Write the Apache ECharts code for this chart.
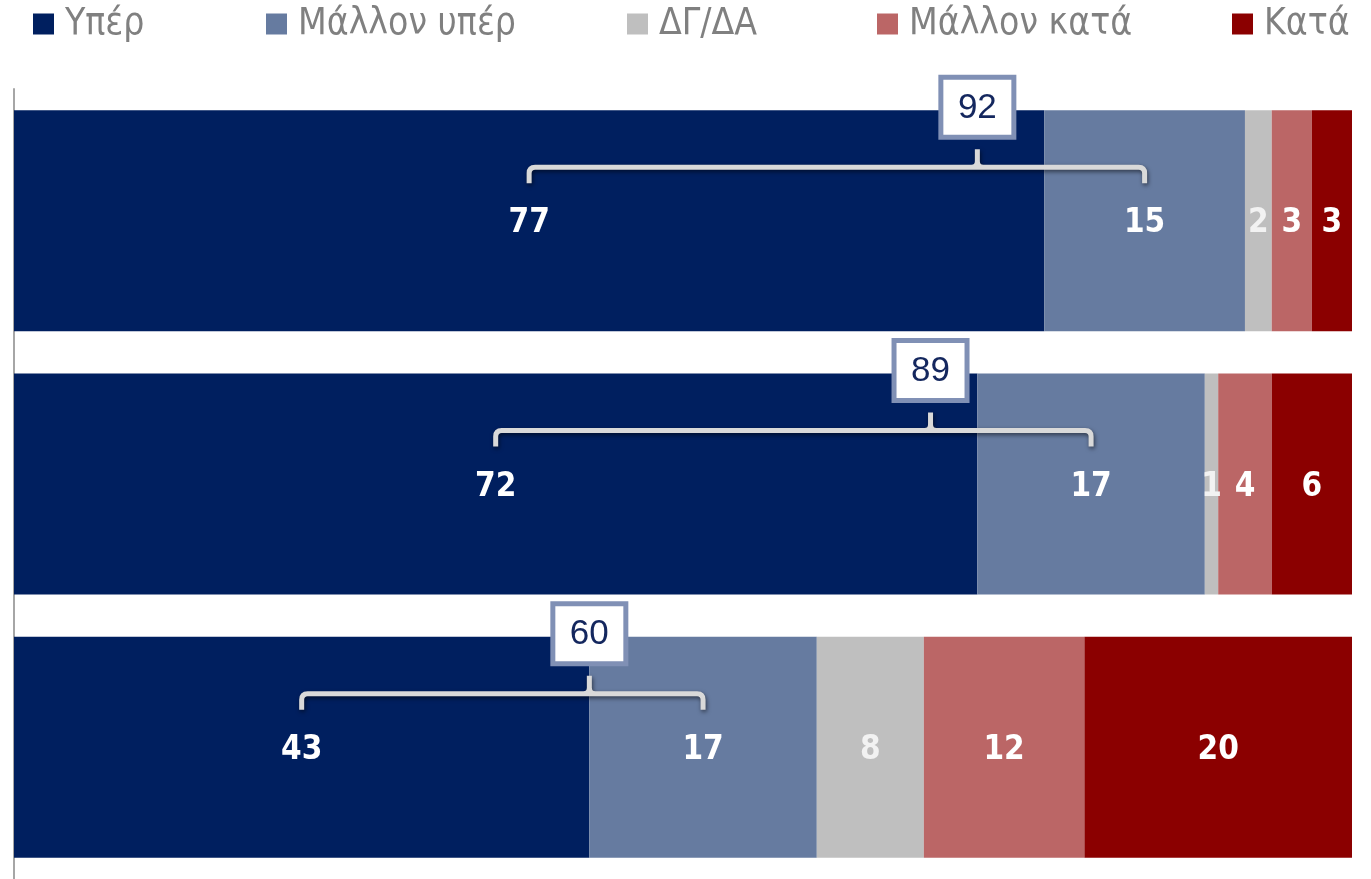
<!DOCTYPE html>
<html>
<head>
<meta charset="utf-8">
<script src="https://cdn.jsdelivr.net/npm/echarts@6/dist/echarts.min.js"></script>
<style>
  html, body { margin: 0; padding: 0; background: #fff; }
  #chart { width: 1371px; height: 879px; }
</style>
</head>
<body>
<div id="chart"></div>
<script>
// three rows, top to bottom
var rows = ['A', 'B', 'C'];
var seriesNames = ['Υπέρ', 'Μάλλον υπέρ', 'ΔΓ/ΔΑ', 'Μάλλον κατά', 'Κατά'];
var yper = [77, 72, 43];
var mallonYper = [15, 17, 17];
var dgda = [2, 1, 8];
var mallonKata = [3, 4, 12];
var kata = [3, 6, 20];
// boxed totals (Υπέρ + Μάλλον υπέρ) and where the brace points up
var totals = [92, 89, 60];
var braceMid = [72, 68.5, 43];

var colors = ['#001f5f', '#667ba0', '#bfbfbf', '#bb6666', '#8b0000'];
var narrow = "'Liberation Sans Narrow', 'Arial Narrow', 'DejaVu Sans Condensed', sans-serif";
var BAR_W = 221;
// legend icon x positions, one legend per item so they sit where the original puts them
var legendLeft = [33, 266, 627, 877, 1232];

var values = [yper, mallonYper, dgda, mallonKata, kata];

var barSeries = seriesNames.map(function(name, i) {
	return {
		name: name,
		type: 'bar',
		stack: 'total',
		barWidth: BAR_W,
		data: values[i],
		itemStyle: { color: colors[i] },
		label: {
			show: true,
			position: 'inside',
			offset: [0, 3],
			color: i === 2 ? '#f2f2f2' : '#fff',
			fontFamily: narrow,
			fontWeight: 'bold',
			fontSize: 33
		},
		emphasis: { disabled: true }
	};
});

var legends = seriesNames.map(function(name, i) {
	return {
		data: [name],
		left: legendLeft[i],
		top: 3,
		padding: 0,
		itemWidth: 21,
		itemHeight: 21,
		icon: 'rect',
		selectedMode: false,
		textStyle: {
			color: '#808080',
			fontFamily: narrow,
			fontSize: 37,
			lineHeight: 42,
			padding: [0, 0, 0, 6]
		}
	};
});

// brace data: left end = centre of Υπέρ, right end = centre of Μάλλον υπέρ
var braceData = rows.map(function(r, k) {
	return [yper[k] / 2, yper[k] + mallonYper[k] / 2, braceMid[k], k, totals[k]];
});

function renderBrace(params, api) {
	var cat = api.value(3);
	var pl = api.coord([api.value(0), cat]);
	var pr = api.coord([api.value(1), cat]);
	var pm = api.coord([api.value(2), cat]);
	var top = pl[1] - BAR_W / 2;
	var xl = pl[0], xr = pr[0], xm = pm[0];
	var yH = top + 57, yE = top + 73, yT = top + 39, r = 6;
	var d = 'M' + xl + ',' + yE + ' L' + xl + ',' + (yH + r) +
		' Q' + xl + ',' + yH + ' ' + (xl + r) + ',' + yH +
		' L' + (xr - r) + ',' + yH +
		' Q' + xr + ',' + yH + ' ' + xr + ',' + (yH + r) +
		' L' + xr + ',' + yE +
		' M' + (xm - r) + ',' + yH + ' Q' + xm + ',' + yH + ' ' + xm + ',' + (yH - r) +
		' L' + xm + ',' + yT +
		' M' + (xm + r) + ',' + yH + ' Q' + xm + ',' + yH + ' ' + xm + ',' + (yH - r);
	var boxCy = top - 3;
	return {
		type: 'group',
		children: [{
			type: 'path',
			shape: { pathData: d },
			style: {
				fill: null,
				stroke: '#d9d9d9',
				lineWidth: 5,
				lineJoin: 'round',
				shadowBlur: 4,
				shadowColor: 'rgba(0,0,0,0.55)',
				shadowOffsetX: 1,
				shadowOffsetY: 2
			}
		}, {
			type: 'rect',
			shape: { x: xm - 36.5, y: boxCy - 30, width: 73, height: 60 },
			style: { fill: '#fff', stroke: '#8090b5', lineWidth: 5 }
		}, {
			type: 'text',
			style: {
				text: String(api.value(4)),
				x: xm,
				y: boxCy + 1,
				align: 'center',
				verticalAlign: 'middle',
				fontSize: 35,
				fontFamily: "'Liberation Sans', Arial, sans-serif",
				fill: '#14275e'
			}
		}]
	};
}

var chart = echarts.init(document.getElementById('chart'));
chart.setOption({
	animation: false,
	backgroundColor: '#fff',
	legend: legends,
	grid: { left: 14, right: 19, top: 89, bottom: -5 },
	xAxis: {
		type: 'value',
		min: 0,
		max: 100,
		show: false
	},
	yAxis: {
		type: 'category',
		data: rows,
		inverse: true,
		offset: 1,
		axisLine: { show: true, lineStyle: { color: '#a6a6a6', width: 2 } },
		axisTick: { show: false },
		axisLabel: { show: false },
		splitLine: { show: false }
	},
	series: barSeries.concat([{
		name: 'brace',
		type: 'custom',
		z: 10,
		clip: false,
		silent: true,
		encode: { x: [0, 1, 2], y: 3 },
		data: braceData,
		renderItem: renderBrace
	}])
});
</script>
</body>
</html>
